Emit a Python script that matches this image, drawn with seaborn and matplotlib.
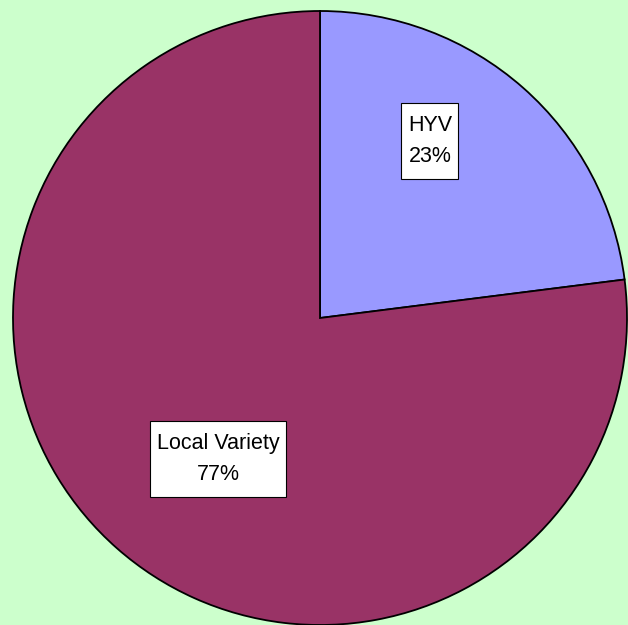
import seaborn as sns
import matplotlib
matplotlib.use("Agg")
import matplotlib.pyplot as plt
from matplotlib.path import Path

# data
varieties = ["HYV", "Local Variety"]
shares = [23, 77]
colors = ["#9999FF", "#993366"]

sns.set_style("white")
plt.rcParams['font.family'] = ['Liberation Sans', 'DejaVu Sans']


def label_box(x0, y0, width, height, mutation_size):
    # square box, more padding top/bottom than at the sides
    px = 0.3 * mutation_size
    py = 0.55 * mutation_size
    x0, y0 = x0 - px, y0 - py
    x1, y1 = x0 + width + 2 * px, y0 + height + 2 * py
    return Path([(x0, y0), (x1, y0), (x1, y1), (x0, y1), (x0, y0)], closed=True)


fig = plt.figure(figsize=(6.28, 6.25), dpi=100, facecolor="#CCFFCC")
# pie of radius 307px centred at (320, 318) from the top left
ax = fig.add_axes([13 / 628, 0, 614 / 628, 614 / 625])
ax.set_facecolor("#CCFFCC")

wedges, _ = ax.pie(shares, colors=colors, startangle=90, counterclock=False,
                   radius=1.0, wedgeprops=dict(edgecolor="black", linewidth=1.3))
ax.set_xlim(-1, 1)
ax.set_ylim(-1, 1)
ax.set_aspect("equal")
ax.axis("off")

# label positions (data units, relative to pie centre)
label_pos = [(0.358, 0.577), (-0.332, -0.459)]
total = sum(shares)
for name, val, (lx, ly) in zip(varieties, shares, label_pos):
    ax.text(lx, ly, f"{name}\n{round(100 * val / total)}%", ha="center", va="center",
            fontsize=15.5, linespacing=1.65, color="black",
            bbox=dict(boxstyle=label_box, facecolor="white", edgecolor="black", linewidth=0.8))

fig.savefig("out.png", dpi=100, facecolor=fig.get_facecolor())
